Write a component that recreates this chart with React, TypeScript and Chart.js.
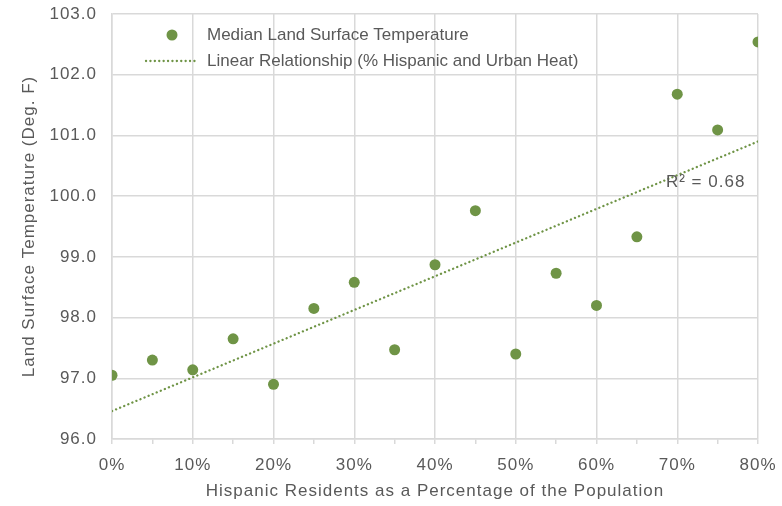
import React, { useEffect, useRef } from "react";
import { Chart, registerables } from "chart.js";

Chart.register(...registerables);

// ---- data ----
const hispanicShare: number[] = [0, 5, 10, 15, 20, 25, 30, 35, 40, 45, 50, 55, 60, 65, 70, 75, 80];
const medianLst: number[] = [97.05, 97.3, 97.14, 97.65, 96.9, 98.15, 98.58, 97.47, 98.87, 99.76, 97.4, 98.73, 98.2, 99.33, 101.68, 101.09, 102.54];
const trendX: number[] = [0, 80];
const trendY: number[] = [96.46, 100.9];
const seriesLabels: string[] = ["Median Land Surface Temperature", "Linear Relationship (% Hispanic and Urban Heat)"];
const xTitle = "Hispanic Residents as a Percentage of the Population";
const yTitle = "Land Surface Temperature (Deg. F)";
const r2Label = "R² = 0.68";
const r2Anchor = { x: 68.6, y: 100.22 };

const GREEN = "#6f9446";
const TEXT = "#595959";
const GRID = "#d9d9d9";
const FONT = "'Liberation Sans', Arial, sans-serif";
const DOTS = [0.1, 4.3];
const DOT_WIDTH = 2.3;

const spacingPlugin = {
  id: "spacing",
  beforeLayout(chart: any) {
    chart.ctx.letterSpacing = "1px";
  },
  beforeDraw(chart: any) {
    chart.ctx.letterSpacing = "1px";
  },
};

const overlayPlugin = {
  id: "overlay",
  afterDraw(chart: any) {
    const { ctx, chartArea, scales } = chart;
    ctx.save();
    // R² label
    ctx.letterSpacing = "1px";
    ctx.font = `17px ${FONT}`;
    ctx.fillStyle = TEXT;
    ctx.textAlign = "left";
    ctx.textBaseline = "middle";
    ctx.fillText(r2Label, scales.x.getPixelForValue(r2Anchor.x), scales.y.getPixelForValue(r2Anchor.y));

    // legend inside plot
    ctx.letterSpacing = "0px";
    const ds = chart.data.datasets;
    const lx = chartArea.left;
    const ty = chartArea.top;
    ctx.beginPath();
    ctx.fillStyle = GREEN;
    ctx.arc(lx + 60, ty + 21, 5.5, 0, Math.PI * 2);
    ctx.fill();
    ctx.fillStyle = TEXT;
    ctx.fillText(ds[0].label, lx + 95, ty + 21);
    ctx.beginPath();
    ctx.strokeStyle = GREEN;
    ctx.lineWidth = DOT_WIDTH;
    ctx.lineCap = "round";
    ctx.setLineDash(DOTS);
    ctx.moveTo(lx + 34, ty + 47);
    ctx.lineTo(lx + 84, ty + 47);
    ctx.stroke();
    ctx.setLineDash([]);
    ctx.fillStyle = TEXT;
    ctx.fillText(ds[1].label, lx + 95, ty + 47);
    ctx.restore();
  },
};

export default function App() {
  const ref = useRef<HTMLCanvasElement | null>(null);

  useEffect(() => {
    if (!ref.current) return;
    Chart.defaults.font.family = FONT;
    const chart = new Chart(ref.current, {
      type: "scatter",
      data: {
        datasets: [
          {
            label: seriesLabels[0],
            data: hispanicShare.map((x, i) => ({ x, y: medianLst[i] })),
            backgroundColor: GREEN,
            borderColor: GREEN,
            pointRadius: 5.5,
            pointBorderWidth: 0,
          },
          {
            label: seriesLabels[1],
            data: trendX.map((x, i) => ({ x, y: trendY[i] })),
            showLine: true,
            borderColor: GREEN,
            backgroundColor: GREEN,
            borderWidth: DOT_WIDTH,
            borderDash: DOTS,
            borderCapStyle: "round",
            pointRadius: 0,
            pointHoverRadius: 0,
          } as any,
        ],
      },
      options: {
        animation: false,
        responsive: true,
        maintainAspectRatio: false,
        layout: { padding: { top: 14, right: 24, bottom: 0, left: 0 } },
        plugins: {
          legend: { display: false },
          tooltip: { enabled: false },
        },
        scales: {
          x: {
            type: "linear",
            min: 0,
            max: 80,
            afterFit: (s: any) => {
              s.height = 67;
              s.paddingLeft = 0;
              s.paddingRight = 0;
            },
            ticks: {
              stepSize: 5,
              autoSkip: false,
              maxRotation: 0,
              padding: 11,
              color: TEXT,
              font: { size: 17 },
              callback: (v: any) => (Number(v) % 10 === 0 ? `${v}%` : ""),
            },
            grid: {
              color: (c: any) => (c.tick && Number(c.tick.value) % 10 === 0 ? GRID : "rgba(0,0,0,0)"),
              tickColor: GRID,
              tickLength: 5,
              lineWidth: 1.5,
              drawTicks: true,
            },
            border: { display: true, color: GRID, width: 1.5 },
            title: {
              display: true,
              text: xTitle,
              color: TEXT,
              font: { size: 17 },
              padding: { top: 0, bottom: 4 },
            },
          },
          y: {
            type: "linear",
            min: 96,
            max: 103,
            afterFit: (s: any) => {
              s.width = 112;
              s.paddingTop = 0;
              s.paddingBottom = 0;
            },
            ticks: {
              stepSize: 1,
              padding: 15,
              color: TEXT,
              font: { size: 17 },
              callback: (v: any) => Number(v).toFixed(1),
            },
            grid: { color: GRID, lineWidth: 1.5, drawTicks: false },
            border: { display: true, color: GRID, width: 1.5 },
            title: {
              display: true,
              text: yTitle,
              color: TEXT,
              font: { size: 17 },
              padding: { top: 19, bottom: 0 },
            },
          },
        },
      },
      plugins: [spacingPlugin, overlayPlugin],
    });
    return () => chart.destroy();
  }, []);

  return (
    <div style={{ position: "absolute", left: 0, top: 0, width: 782, height: 506, background: "#fff" }}>
      <canvas ref={ref} />
    </div>
  );
}
